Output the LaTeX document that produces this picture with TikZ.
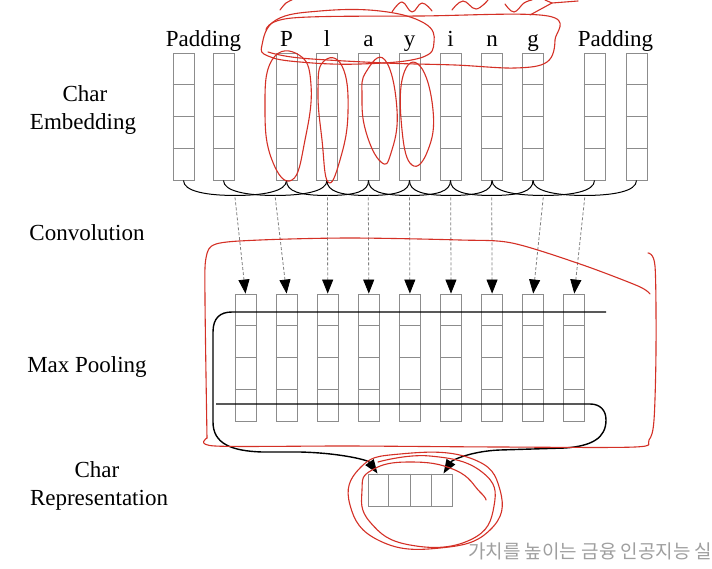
\documentclass[tikz,border=0pt]{standalone}
\usepackage{fontspec}
\setmainfont{Liberation Serif}
\newfontfamily\krfont{Noto Sans CJK KR}
\usetikzlibrary{arrows.meta,calc}
\definecolor{annred}{RGB}{212,48,38}
\definecolor{cellgray}{RGB}{140,140,140}
\tikzset{
  cell/.style={draw=cellgray, line width=0.9pt, minimum width=21pt, minimum height=127pt, inner sep=0pt},
  repcell/.style={draw=cellgray, line width=0.9pt, minimum width=84pt, minimum height=32pt, inner sep=0pt},
  cellline/.style={draw=cellgray, line width=0.9pt},
  lab/.style={font=\fontsize{23}{26}\selectfont, anchor=base, inner sep=0pt},
  brace/.style={black, line width=1.0pt},
  conv/.style={densely dashed, gray, line width=0.8pt, -{Triangle[length=14pt,width=11pt,color=black,fill=black,sep=0pt]}},
  pool/.style={black, line width=1.4pt},
  pooltip/.style={-{Triangle[length=14pt,width=10pt,color=black,fill=black]}},
  ann/.style={draw=annred, line width=1.1pt, line cap=round, line join=round},
  wm/.style={font=\krfont\fontsize{19}{21}\selectfont, text=gray!75, anchor=base west, inner sep=0pt}
}
\begin{document}
\begin{tikzpicture}[x=1pt,y=-1pt]
\useasboundingbox[fill=white] (0,0) rectangle (712,568);

% ---- embedding columns
\foreach \x [count=\i] in {183.5,223.5,286.5,327,368.5,409.5,450.5,492,533,594.5,636.5}{
  \node[cell] (e\i) at (\x,116.5) {};
  \foreach \k in {0.25,0.5,0.75}
    \draw[cellline] ($(e\i.north west)!\k!(e\i.south west)$) -- ($(e\i.north east)!\k!(e\i.south east)$);
}
% ---- convolution output columns
\foreach \i in {1,...,9}{
  \node[cell] (o\i) at ({245.5+41.1*(\i-1)},357.5) {};
  \foreach \k in {0.25,0.5,0.75}
    \draw[cellline] ($(o\i.north west)!\k!(o\i.south west)$) -- ($(o\i.north east)!\k!(o\i.south east)$);
}
% ---- braces and dashed arrows
\foreach \i in {1,...,9}{
  \pgfmathtruncatemacro\j{\i+2}
  \coordinate (m\i) at ($(e\i.south)!0.5!(e\j.south)+(0,15)$);
  \draw[brace] (e\i.south) .. controls +(0,11) and +(-28,0) .. (m\i);
  \draw[brace] (e\j.south) .. controls +(0,11) and +(28,0) .. (m\i);
  \draw[conv] ($(m\i)+(0,2)$) -- (o\i.north);
}
% ---- char representation
\node[repcell] (r) at (410,490) {};
\foreach \k in {0.25,0.5,0.75}
  \draw[cellline] ($(r.north west)!\k!(r.north east)$) -- ($(r.south west)!\k!(r.south east)$);
\coordinate (rl) at ($(r.north west)+(10,0)$);
\coordinate (rr) at ($(r.north east)+(-9,0)$);

% ---- max pooling loops
\coordinate (pa) at (606,312);
\coordinate (pb) at (216,404);
\draw[pool,pooltip] (pa) -- (232,312) .. controls (220,312) and (213,318) .. (213,332)
  -- (213,422) .. controls (213,444) and (232,451) .. (262,452)
  -- (300,452) .. controls (340,453) and (368,460) .. (rl);
\draw[pool,pooltip] (pb) -- (590,404) .. controls (600,404) and (606,410) .. (606,420)
  .. controls (606,438) and (592,446) .. (565,448)
  -- (500,450) .. controls (472,451) and (452,460) .. (rr);

% ---- labels
\node[lab] (pad1) at (203.5,46) {Padding};
\node[lab] (pad2) at (615.5,46) {Padding};
\foreach \c/\x [count=\i] in {P/286.5,l/327,a/368.5,y/409.5,i/450.5,n/492,g/533}
  \node[lab] (c\i) at (\x,46) {\c};
\node[lab] (l1) at (85,101) {Char};
\node[lab] (l2) at (83,129) {Embedding};
\node[lab] (l3) at (87,240) {Convolution};
\node[lab] (l4) at (87,372) {Max Pooling};
\node[lab] (l5) at (97,477) {Char};
\node[lab] (l6) at (99,505) {Representation};

% ---- hand-drawn red annotations
\draw[ann] plot[smooth cycle, tension=0.7] coordinates {(262,45) (276,20) (320,11) (380,11) (424,23) (434,42) (420,58) (360,64) (300,62) (268,56)};
\draw[ann] plot[smooth, tension=0.6] coordinates {(266,30) (292,18) (420,16) (548,16) (555,40) (547,62) (515,68) (455,65) (385,63) (300,58) (268,52)};
\draw[ann] plot[smooth cycle, tension=0.8] coordinates {(272,60) (299,55) (311,85) (305,140) (292,180) (272,160) (265,110)};
\draw[ann] plot[smooth cycle, tension=0.8] coordinates {(323,62) (342,66) (348,112) (340,160) (328,182) (322,140) (318,92)};
\draw[ann] plot[smooth cycle, tension=0.8] coordinates {(366,72) (385,60) (397,110) (391,153) (381,162) (366,132) (362,96)};
\draw[ann] plot[smooth cycle, tension=0.8] coordinates {(403,76) (420,66) (433,110) (428,150) (412,165) (402,130)};
% top scribbles
\draw[ann] plot[smooth, tension=0.7] coordinates {(280,10) (286,3) (292,0)};
\draw[ann] plot[smooth, tension=0.7] coordinates {(392,12) (402,2) (412,12) (422,3) (432,11)};
\draw[ann] plot[smooth, tension=0.7] coordinates {(452,10) (463,1) (476,9) (488,0)};
\draw[ann] plot[smooth, tension=0.7] coordinates {(505,4) (514,12) (524,3) (532,0)};
\draw[ann] (530,15) -- (552,3) -- (578,1);
\draw[ann] (552,3) -- (545,0);
% region around max pooling
\draw[ann] plot[smooth, tension=0.5] coordinates {(207,438) (205,300) (206,258) (216,244) (260,240) (350,238) (460,240) (512,243) (580,264) (638,286) (650,294)};
\draw[ann] plot[smooth, tension=0.5] coordinates {(648,253) (655,266) (656,350) (654,420) (649,440) (635,447) (500,447) (350,446) (215,446) (207,438)};
% circles around the char representation
\draw[ann] plot[smooth cycle, tension=0.8] coordinates {(360,468) (400,454) (470,458) (500,490) (490,530) (440,548) (380,541) (350,505)};
\draw[ann] plot[smooth, tension=0.8] coordinates {(378,462) (430,456) (482,472) (494,506) (470,540) (410,545) (370,522) (362,490) (372,470) (410,462) (455,470) (480,492) (486,500)};

% ---- watermark
\node[wm] (wmark) at (468,558) {가치를 높이는 금융 인공지능 실무};
\end{tikzpicture}
\end{document}
